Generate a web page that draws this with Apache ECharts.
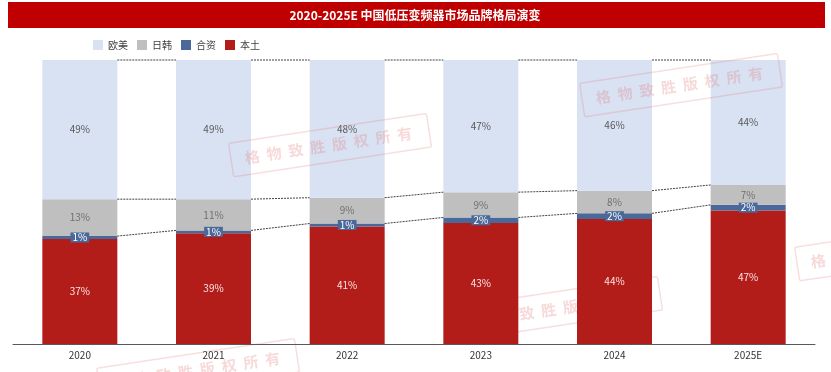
<!DOCTYPE html>
<html><head><meta charset="utf-8">
<script src="https://cdn.jsdelivr.net/npm/echarts@6/dist/echarts.min.js"></script>
<style>html,body{margin:0;padding:0;background:#fff}#c{width:831px;height:372px}</style>
</head><body><div id="c"></div>
<script>
var categories = ['2020','2021','2022','2023','2024','2025E'];
var bentu  = [37,39,41,43,44,47];   // 本土
var hezi   = [1,1,1,2,2,2];         // 合资
var rihan  = [13,11,9,9,8,7];       // 日韩
var oumei  = [49,49,48,47,46,44];   // 欧美
var title = '2020-2025E 中国低压变频器市场品牌格局演变';
var watermark = '格物致胜版权所有';

var totals = categories.map(function(_, i){ return bentu[i]+hezi[i]+rihan[i]+oumei[i]; });
function share(arr){ return arr.map(function(v,i){ return {value: v/totals[i]*100, raw: v}; }); }
var BW = 75;
var font = '"Microsoft YaHei","Noto Sans CJK SC",sans-serif';

function stamp(x, y, rot, z){
  var ch = [{type:'rect', z:z, shape:{x:-14, y:-17, width:200, height:34, r:2},
             style:{fill:'none', stroke:'rgba(225,110,110,0.22)', lineWidth:1.5}}];
  watermark.split('').forEach(function(c, k){
    ch.push({type:'text', z:z, style:{text:c, x:k*22, y:0, verticalAlign:'middle',
      fill:'rgba(225,110,110,0.26)', font:'bold 15px "Noto Sans CJK SC"'}});
  });
  return {type:'group', x:x, y:y, rotation:rot, z:z, silent:true, children:ch};
}

var chart = echarts.init(document.getElementById('c'));
chart.setOption({
  animation: false,
  textStyle: {fontFamily: font},
  graphic: [
    {type:'rect', shape:{x:8, y:2, width:817, height:26}, style:{fill:'#C00000'}, z:0},
    {type:'text', x:415, y:15, style:{text:title, fill:'#fff', font:'bold 12px "Noto Sans CJK SC"', align:'center', verticalAlign:'middle'}, z:1},
    stamp(245, 158, 0.15, 100),
    stamp(596, 98, 0.15, 100),
    stamp(476, 321, 0.15, 0),
    stamp(113, 383, 0.15, 0),
    stamp(811, 262, 0.15, 0)
  ],
  legend: {
    left: 88, top: 35, itemWidth: 10, itemHeight: 10, itemGap: 9,
    icon: 'rect',
    textStyle: {fontSize: 10, color: '#404040'},
    data: ['欧美','日韩','合资','本土']
  },
  grid: {left: 13, right: 16, top: 60, bottom: 28},
  xAxis: {
    type: 'category', data: categories,
    axisTick: {show: false},
    axisLine: {lineStyle: {color: '#595959', width: 1}},
    axisLabel: {fontSize: 10, color: '#333', margin: 6}
  },
  yAxis: {type: 'value', min: 0, max: 100, show: false, splitLine: {show: false}},
  series: [
    {name:'本土', type:'bar', stack:'a', barWidth:BW, data: share(bentu),
     itemStyle:{color:'#B21D1A'},
     label:{show:true, position:'inside', fontSize:10, color:'#FBE5E5', formatter:function(p){return p.data.raw+'%';}}},
    {name:'合资', type:'bar', stack:'a', barWidth:BW, data: share(hezi),
     itemStyle:{color:'#4A6899'},
     label:{show:true, position:'inside', fontSize:10, color:'#fff', backgroundColor:'#4A6899', padding:[0,2], formatter:function(p){return p.data.raw+'%';}}},
    {name:'日韩', type:'bar', stack:'a', barWidth:BW, data: share(rihan),
     itemStyle:{color:'#BFBFBF'},
     label:{show:true, position:'inside', fontSize:10, color:'#707070', formatter:function(p){return p.data.raw+'%';}}},
    {name:'欧美', type:'bar', stack:'a', barWidth:BW, data: share(oumei),
     itemStyle:{color:'#D9E2F3'},
     label:{show:true, position:'inside', fontSize:10, color:'#595959', formatter:function(p){return p.data.raw+'%';}}},
    {type:'custom', silent:true, z:5,
     data: categories.slice(0, categories.length-1).map(function(_, i){ return [i]; }),
     renderItem: function(params, api){
       var i = api.value(0);
       function cum(k, j){
         var s = 0, arrs = [bentu, hezi, rihan, oumei];
         for (var a = 0; a <= k; a++) s += arrs[a][j];
         return s / totals[j] * 100;
       }
       var children = [];
       [1,2,3].forEach(function(k){
         var p1 = api.coord([i, cum(k, i)]);
         var p2 = api.coord([i+1, cum(k, i+1)]);
         children.push({type:'line', shape:{x1:p1[0]+BW/2, y1:p1[1], x2:p2[0]-BW/2, y2:p2[1]},
           style:{stroke:'#404040', lineWidth:1, lineDash:[2,1]}});
       });
       return {type:'group', children: children};
     }}
  ]
});
</script></body></html>
